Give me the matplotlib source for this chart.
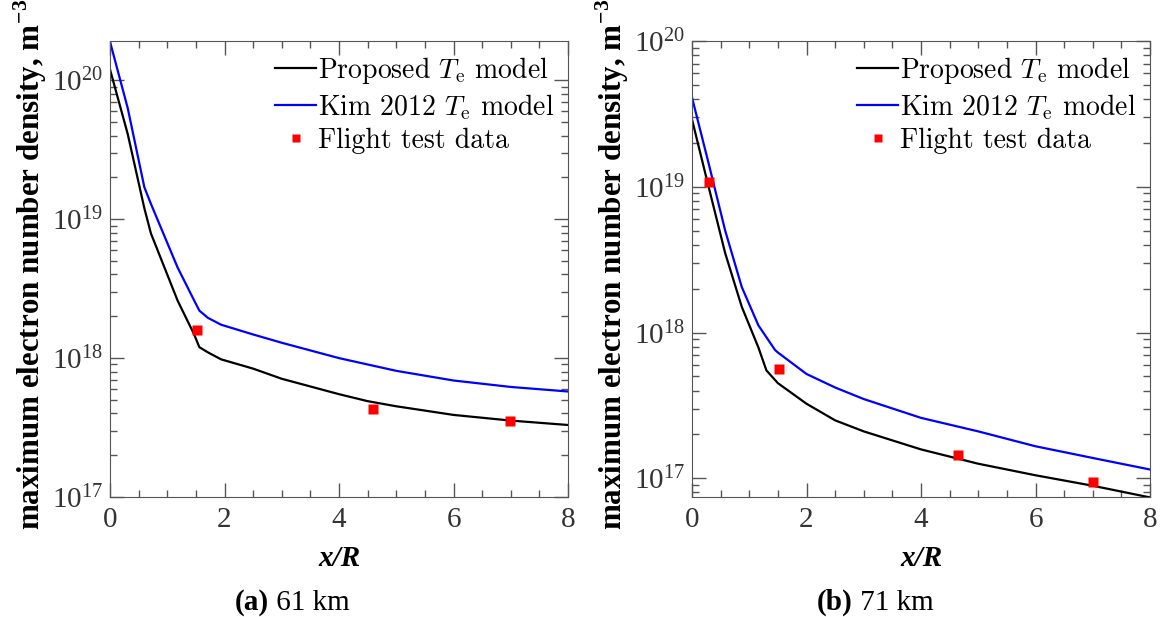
import numpy as np
import matplotlib
matplotlib.use("Agg")
import matplotlib.pyplot as plt
from matplotlib import ticker

# (a) 61 km
xa_prop = [0.0, 0.31, 0.6, 0.715, 1.18, 1.47, 1.56, 1.71, 1.94, 2.5, 3.0, 4.0, 4.5, 5.0, 6.0, 7.0, 8.0]
ya_prop = [1.2e20, 4.1e19, 1.2e19, 7.9e18, 2.6e18, 1.48e18, 1.2e18, 1.1e18, 9.8e17, 8.4e17, 7.1e17,
           5.5e17, 4.9e17, 4.5e17, 3.9e17, 3.55e17, 3.3e17]
xa_kim = [0.0, 0.31, 0.6, 0.715, 1.18, 1.47, 1.56, 1.71, 1.94, 2.5, 3.0, 4.0, 5.0, 6.0, 7.0, 8.0]
ya_kim = [1.9e20, 6.3e19, 1.7e19, 1.29e19, 4.5e18, 2.6e18, 2.2e18, 1.95e18, 1.74e18, 1.48e18, 1.29e18,
          1.0e18, 8.1e17, 6.9e17, 6.2e17, 5.75e17]
xa_test = [1.52, 4.59, 6.99]
ya_test = [1.6e18, 4.3e17, 3.55e17]

# (b) 71 km
xb_prop = [0.0, 0.29, 0.58, 0.87, 1.16, 1.3, 1.5, 2.0, 2.5, 3.0, 4.0, 5.0, 6.0, 7.0, 8.0]
yb_prop = [2.9e19, 1.0e19, 3.5e18, 1.5e18, 7.9e17, 5.5e17, 4.5e17, 3.25e17, 2.5e17, 2.1e17,
           1.58e17, 1.26e17, 1.05e17, 8.9e16, 7.4e16]
xb_kim = [0.0, 0.29, 0.58, 0.87, 1.16, 1.45, 1.5, 2.0, 2.5, 3.0, 4.0, 5.0, 6.0, 7.0, 8.0]
yb_kim = [4.1e19, 1.45e19, 5.0e18, 2.05e18, 1.12e18, 7.6e17, 7.3e17, 5.2e17, 4.2e17, 3.5e17,
          2.6e17, 2.1e17, 1.66e17, 1.38e17, 1.15e17]
xb_test = [0.30, 1.52, 4.64, 7.01]
yb_test = [1.08e19, 5.6e17, 1.45e17, 9.4e16]

plt.rcParams["font.family"] = ["Liberation Serif", "DejaVu Serif"]
plt.rcParams["mathtext.fontset"] = "cm"

fig = plt.figure(figsize=(11.64, 6.17), dpi=100)
W, H = 1164.0, 617.0
rend = fig.canvas.get_renderer()

panels = [
    (110, xa_prop, ya_prop, xa_kim, ya_kim, xa_test, ya_test, (1e17, 1.92e20), "(a)", " 61 km", 292),
    (692, xb_prop, yb_prop, xb_kim, yb_kim, xb_test, yb_test, (7.45e16, 1e20), "(b)", " 71 km", 875),
]

spine_c = "#555555"
for left, xp, yp, xk, yk, xt, yt, ylim, tag, cap, capx in panels:
    ax = fig.add_axes([left / W, 1 - 497 / H, 458 / W, (497 - 41) / H])
    ax.plot(xp, yp, color="black", lw=1.6, label=r"Proposed $T_\mathrm{e}$ model")
    ax.plot(xk, yk, color="#0000ff", lw=1.6, label=r"Kim 2012 $T_\mathrm{e}$ model")
    ax.plot(xt, yt, "s", color="#ff0000", ms=7.5, mec="none", label="Flight test data")
    ax.set_yscale("log")
    ax.set_xlim(0, 8)
    ax.set_ylim(*ylim)
    ax.xaxis.set_major_locator(ticker.MultipleLocator(2))
    ax.xaxis.set_minor_locator(ticker.MultipleLocator(0.5))
    ax.yaxis.set_major_formatter(ticker.LogFormatterMathtext())
    ax.yaxis.set_minor_formatter(ticker.NullFormatter())
    ax.tick_params(which="both", direction="in", top=True, right=True,
                   color=spine_c, labelcolor="#333333", labelsize=21)
    ax.tick_params(which="major", length=10, width=1)
    ax.tick_params(which="minor", length=5, width=1)
    ax.tick_params(axis="x", which="major", pad=7)
    ax.tick_params(axis="y", which="major", pad=5)
    for s in ax.spines.values():
        s.set_color(spine_c)
    ax.set_xlabel("x/R", fontsize=21, fontweight="bold", fontstyle="italic")
    ax.xaxis.set_label_coords(0.5, -0.105)
    ax.set_ylabel(r"maximum electron number density, m$^{\mathdefault{-3}}$",
                  fontsize=22.3, fontweight="bold")
    ax.yaxis.set_label_coords(-0.133, 0.51)
    ax.legend(loc="upper right", frameon=False, prop={"family": "cmr10", "size": 20},
              handlelength=1.5, handletextpad=0.05, labelspacing=0.22,
              borderaxespad=0.2, borderpad=0.3, markerscale=0.75)

    # caption: bold tag + plain text, centred as one line
    t1 = fig.text(0, 1 - 610 / H, tag, fontsize=21, fontweight="bold", va="baseline")
    t2 = fig.text(0, 1 - 610 / H, cap, fontsize=21, va="baseline")
    w1 = t1.get_window_extent(rend).width
    w2 = t2.get_window_extent(rend).width
    x0 = capx - (w1 + w2) / 2
    t1.set_x(x0 / W)
    t2.set_x((x0 + w1) / W)

fig.savefig("out.png", dpi=100)
